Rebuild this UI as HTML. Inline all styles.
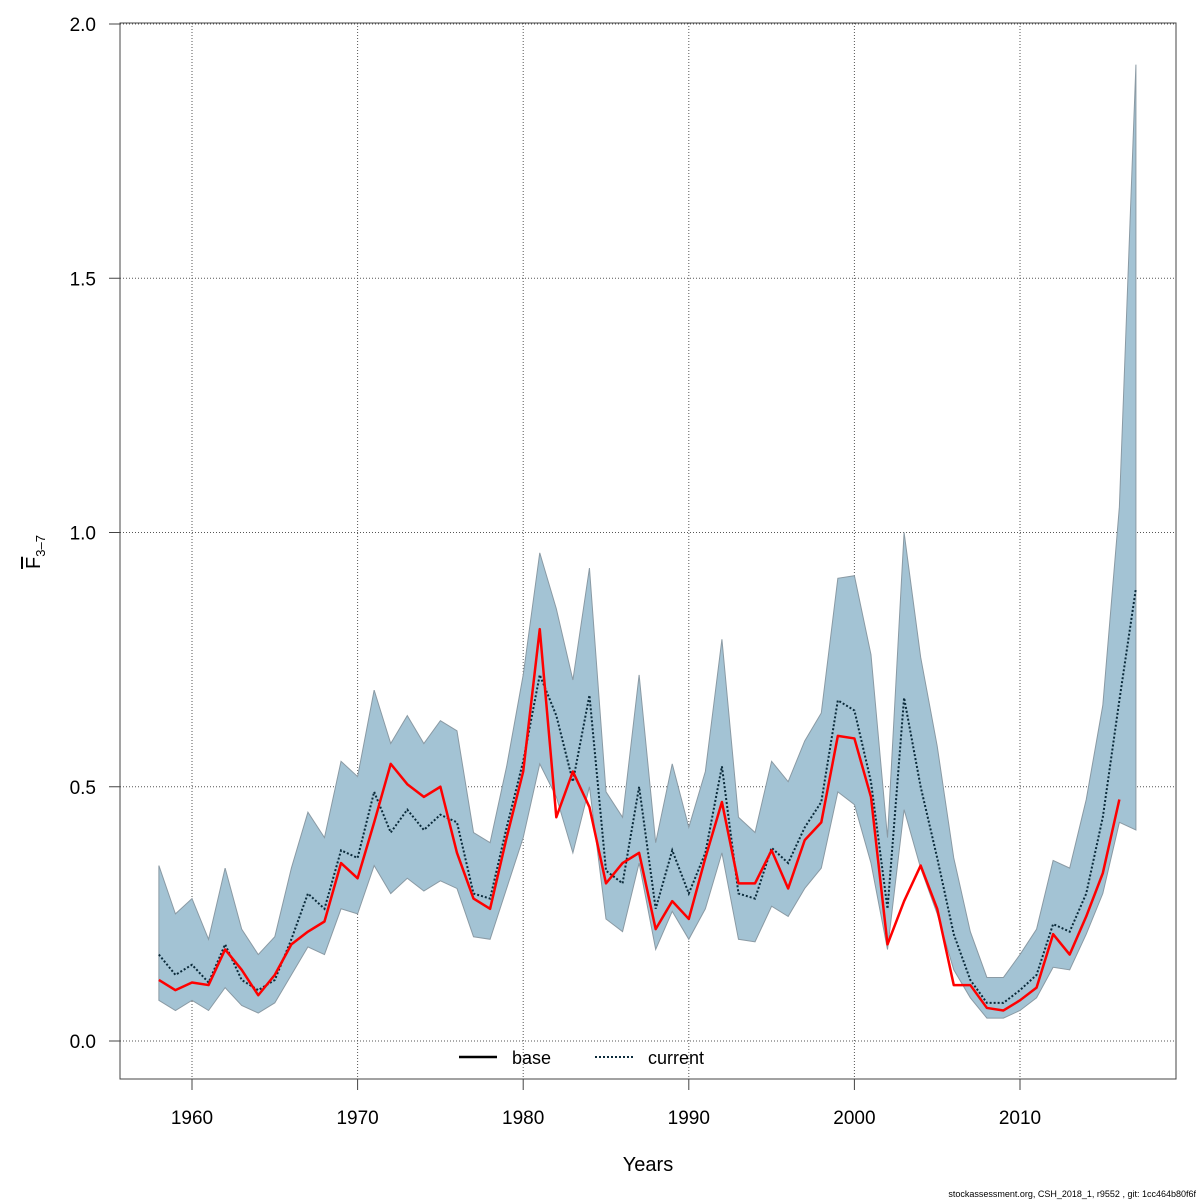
<!DOCTYPE html>
<html><head><meta charset="utf-8"><style>
body{margin:0;background:#fff}
svg{display:block;font-family:"Liberation Sans",sans-serif}
</style></head><body>
<svg id="chart" width="1200" height="1200" viewBox="0 0 1200 1200">
<rect width="1200" height="1200" fill="#fff"/>
<g id="grid"></g><g id="band"></g><g id="lines"></g><g id="axes"></g>
</svg>
<script>
const years = [];
for (let y = 1958; y <= 2017; y++) years.push(y);
const baseVals = [0.12,0.10,0.115,0.11,0.18,0.14,0.09,0.13,0.19,0.215,0.235,0.35,0.32,0.43,0.545,0.505,0.48,0.50,0.37,0.28,0.26,0.40,0.53,0.81,0.44,0.53,0.46,0.31,0.35,0.37,0.22,0.275,0.24,0.36,0.47,0.31,0.31,0.375,0.30,0.395,0.43,0.60,0.595,0.48,0.19,0.275,0.345,0.26,0.11,0.11,0.065,0.06,0.08,0.105,0.21,0.17,0.245,0.33,0.475];
const currentVals = [0.17,0.13,0.15,0.115,0.19,0.12,0.10,0.12,0.20,0.29,0.26,0.375,0.36,0.49,0.41,0.455,0.415,0.445,0.43,0.29,0.28,0.42,0.55,0.72,0.64,0.51,0.68,0.335,0.31,0.50,0.26,0.375,0.29,0.37,0.54,0.29,0.28,0.38,0.35,0.42,0.47,0.67,0.65,0.51,0.26,0.675,0.50,0.36,0.21,0.12,0.075,0.075,0.10,0.13,0.23,0.215,0.29,0.44,0.67,0.89];
const upperVals = [0.345,0.25,0.28,0.20,0.34,0.22,0.17,0.205,0.34,0.45,0.40,0.55,0.52,0.69,0.585,0.64,0.585,0.63,0.61,0.41,0.39,0.54,0.72,0.96,0.85,0.71,0.93,0.49,0.44,0.72,0.39,0.545,0.42,0.53,0.79,0.44,0.41,0.55,0.51,0.59,0.645,0.91,0.915,0.76,0.40,1.00,0.755,0.58,0.36,0.215,0.125,0.125,0.17,0.22,0.355,0.34,0.475,0.66,1.05,1.92];
const lowerVals = [0.08,0.06,0.08,0.06,0.105,0.07,0.055,0.075,0.13,0.185,0.17,0.26,0.25,0.345,0.29,0.32,0.295,0.315,0.30,0.205,0.20,0.30,0.40,0.545,0.48,0.37,0.50,0.24,0.215,0.35,0.18,0.255,0.20,0.26,0.37,0.20,0.195,0.265,0.245,0.30,0.34,0.49,0.465,0.35,0.18,0.455,0.34,0.25,0.14,0.085,0.045,0.045,0.06,0.085,0.145,0.14,0.21,0.29,0.43,0.415];
const xTicks = [1960,1970,1980,1990,2000,2010];
const yTicks = [0,0.5,1,1.5,2];
const yTickLabels = ["0.0","0.5","1.0","1.5","2.0"];

const X0=120,X1=1176,Y0=23,Y1=1079;
const xs = y => 192 + (y-1960)*16.56;
const ys = v => 1041 - v*508.5;
const NS="http://www.w3.org/2000/svg";
function mk(tag, attrs, parent){const e=document.createElementNS(NS,tag);for(const k in attrs)e.setAttribute(k,attrs[k]);parent.appendChild(e);return e;}
const grid=document.getElementById('grid'),band=document.getElementById('band'),lines=document.getElementById('lines'),axes=document.getElementById('axes');

xTicks.forEach(t=>{const l=mk('line',{x1:xs(t),x2:xs(t),y1:Y0,y2:Y1,stroke:'#555','stroke-dasharray':'1,2','stroke-width':1},grid);

});
yTicks.forEach(t=>{const l=mk('line',{x1:X0,x2:X1,y1:ys(t),y2:ys(t),stroke:'#555','stroke-dasharray':'1,2','stroke-width':1},grid);

});

let pts=years.map((y,i)=>xs(y)+','+ys(upperVals[i]));
for(let i=years.length-1;i>=0;i--)pts.push(xs(years[i])+','+ys(lowerVals[i]));
const poly=mk('polygon',{points:pts.join(' '),fill:'#a3c3d4',stroke:'#8a9aa4','stroke-width':1},band);



const cur=mk('polyline',{points:currentVals.map((v,i)=>xs(years[i])+','+ys(v)).join(' '),fill:'none',stroke:'#0a2a3a','stroke-width':2,'stroke-dasharray':'2,2'},lines);


const base=mk('polyline',{points:baseVals.map((v,i)=>xs(years[i])+','+ys(v)).join(' '),fill:'none',stroke:'#ff0000','stroke-width':2.5,'stroke-linejoin':'round'},lines);



const box=mk('rect',{x:X0,y:Y0,width:X1-X0,height:Y1-Y0,fill:'none',stroke:'#444','stroke-width':1},axes);


xTicks.forEach(t=>{mk('line',{x1:xs(t),x2:xs(t),y1:Y1,y2:Y1+11,stroke:'#444'},axes);
const tx=mk('text',{x:xs(t),y:1124,'text-anchor':'middle','font-size':19,fill:'#000'},axes);tx.textContent=t;

});
yTicks.forEach((t,i)=>{mk('line',{x1:X0,x2:X0-11,y1:ys(t),y2:ys(t),stroke:'#444'},axes);
const tx=mk('text',{x:96,y:ys(t)+7,'text-anchor':'end','font-size':19,fill:'#000'},axes);tx.textContent=yTickLabels[i];

});
</script>
<svg style="position:absolute;left:0;top:0" width="1200" height="1200">
<text x="648" y="1171" text-anchor="middle" font-size="20" font-family="Liberation Sans,sans-serif">Years</text>
<g transform="translate(40,552) rotate(-90)">
<text x="0" y="0" text-anchor="middle" font-size="20" font-family="Liberation Sans,sans-serif"><tspan text-decoration="overline">F</tspan><tspan font-size="13" dy="5">3–7</tspan></text>
</g>
<g>
<line x1="459" x2="497" y1="1057" y2="1057" stroke="#000" stroke-width="2.5"/>
<text x="512" y="1064" font-size="18" font-family="Liberation Sans,sans-serif">base</text>
<line x1="595" x2="633" y1="1057" y2="1057" stroke="#0a2a3a" stroke-width="2" stroke-dasharray="2,2"/>
<text x="648" y="1064" font-size="18" font-family="Liberation Sans,sans-serif">current</text>
</g>
<text x="1196" y="1197" text-anchor="end" font-size="9" font-family="Liberation Sans,sans-serif">stockassessment.org, CSH_2018_1, r9552 , git: 1cc464b80f6f</text>
</svg>
</body></html>
